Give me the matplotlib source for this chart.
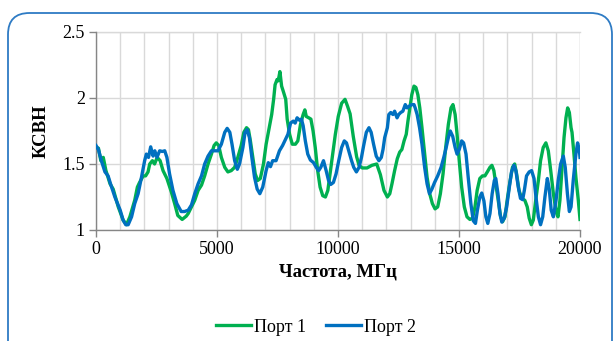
import numpy as np
import matplotlib
matplotlib.use("Agg")
import matplotlib.pyplot as plt
from matplotlib.patches import FancyBboxPatch
from matplotlib.ticker import MultipleLocator

OUTPUT_PLOT_FILE = "out.png"

# Порт 1 (зелёная кривая)
port1_freq = [0, 100, 200, 300, 410, 580, 710, 920, 1120, 1260, 1400, 1600, 1710, 1800, 1950,
              2050, 2150, 2220, 2330, 2420, 2530, 2650, 2770, 2930, 3110, 3250, 3380, 3560, 3730,
              3810, 3945, 4080, 4220, 4360, 4490, 4630, 4770, 4880, 4970, 5070, 5180, 5320, 5450,
              5590, 5730, 5860, 6000, 6110, 6220, 6300, 6380, 6480, 6580, 6680, 6790, 6920, 7030,
              7160, 7260, 7340, 7400, 7480, 7530, 7600, 7670, 7740, 7840, 7900, 8000, 8110, 8240,
              8340, 8450, 8560, 8630, 8690, 8790, 8880, 8970, 9060, 9160, 9260, 9370, 9480, 9580,
              9670, 9780, 9890, 10010, 10150, 10290, 10390, 10500, 10630, 10770, 10870, 11000,
              11200, 11400, 11600, 11750, 11900, 12040, 12140, 12230, 12340, 12450, 12550, 12640,
              12730, 12820, 12890, 12970, 13050, 13140, 13220, 13300, 13380, 13470, 13580, 13680,
              13790, 13900, 14010, 14120, 14230, 14340, 14450, 14560, 14670, 14750, 14840, 14920,
              15010, 15110, 15220, 15330, 15450, 15560, 15660, 15750, 15860, 15970, 16070, 16170,
              16280, 16360, 16440, 16520, 16620, 16720, 16800, 16900, 16990, 17100, 17210, 17300,
              17380, 17480, 17590, 17720, 17820, 17900, 17990, 18070, 18170, 18280, 18370, 18480,
              18590, 18690, 18790, 18900, 19010, 19090, 19170, 19250, 19340, 19420, 19490, 19560,
              19630, 19670, 19750, 19830, 19930, 20000]
port1_vswr = [1.625, 1.62, 1.525, 1.55, 1.45, 1.35, 1.31, 1.175, 1.075, 1.04, 1.10, 1.225, 1.325,
              1.36, 1.41, 1.41, 1.44, 1.50, 1.525, 1.50, 1.55, 1.525, 1.45, 1.39, 1.29, 1.20, 1.11,
              1.08, 1.105, 1.125, 1.175, 1.225, 1.30, 1.34, 1.41, 1.50, 1.575, 1.64, 1.66, 1.64,
              1.55, 1.475, 1.44, 1.45, 1.475, 1.55, 1.64, 1.74, 1.775, 1.76, 1.675, 1.55, 1.425,
              1.375, 1.39, 1.50, 1.65, 1.775, 1.875, 1.99, 2.10, 2.14, 2.13, 2.20, 2.09, 2.05, 1.99,
              1.84, 1.725, 1.65, 1.65, 1.675, 1.80, 1.875, 1.91, 1.86, 1.85, 1.84, 1.75, 1.625, 1.45,
              1.325, 1.26, 1.25, 1.30, 1.425, 1.575, 1.725, 1.86, 1.96, 1.99, 1.94, 1.88, 1.71,
              1.555, 1.49, 1.47, 1.47, 1.49, 1.50, 1.42, 1.30, 1.25, 1.275, 1.35, 1.45, 1.54, 1.59,
              1.61, 1.675, 1.725, 1.825, 1.925, 2.025, 2.09, 2.08, 2.025, 1.925, 1.775, 1.575, 1.40,
              1.275, 1.20, 1.16, 1.175, 1.275, 1.425, 1.625, 1.80, 1.925, 1.95, 1.875, 1.725, 1.525,
              1.325, 1.175, 1.10, 1.08, 1.09, 1.175, 1.30, 1.39, 1.41, 1.41, 1.44, 1.475, 1.49,
              1.45, 1.35, 1.225, 1.10, 1.0625, 1.10, 1.225, 1.36, 1.475, 1.50, 1.425, 1.30, 1.24,
              1.225, 1.175, 1.09, 1.04, 1.075, 1.225, 1.375, 1.525, 1.625, 1.66, 1.60, 1.45, 1.275,
              1.14, 1.10, 1.225, 1.45, 1.70, 1.85, 1.925, 1.89, 1.775, 1.74, 1.575, 1.40, 1.225, 1.08]

# Порт 2 (синяя кривая)
port2_freq = [0, 100, 230, 370, 500, 600, 780, 1000, 1120, 1230, 1330, 1470, 1600, 1740, 1880,
              2010, 2080, 2170, 2260, 2360, 2430, 2520, 2630, 2740, 2840, 2930, 3040, 3180, 3340,
              3520, 3660, 3810, 3945, 4080, 4220, 4360, 4490, 4630, 4770, 4900, 5040, 5180, 5320,
              5420, 5530, 5620, 5730, 5840, 5930, 6070, 6160, 6250, 6340, 6440, 6550, 6660, 6770,
              6890, 7030, 7120, 7210, 7300, 7440, 7580, 7710, 7840, 7930, 8040, 8150, 8230, 8310,
              8420, 8490, 8560, 8650, 8750, 8860, 8990, 9100, 9200, 9290, 9400, 9510, 9610, 9700,
              9810, 9920, 10030, 10150, 10260, 10350, 10460, 10560, 10650, 10760, 10870, 10970,
              11060, 11170, 11280, 11370, 11470, 11580, 11690, 11790, 11860, 11930, 12040, 12100,
              12180, 12270, 12340, 12440, 12510, 12590, 12680, 12780, 12860, 12960, 13050, 13140,
              13190, 13270, 13370, 13470, 13580, 13680, 13780, 13880, 13990, 14120, 14260, 14370,
              14470, 14560, 14640, 14740, 14840, 14920, 15010, 15110, 15190, 15290, 15380, 15490,
              15590, 15680, 15760, 15860, 15940, 16030, 16110, 16190, 16280, 16370, 16460, 16520,
              16610, 16690, 16770, 16870, 16970, 17080, 17170, 17270, 17350, 17450, 17540, 17630,
              17700, 17790, 17900, 18000, 18100, 18180, 18280, 18370, 18460, 18550, 18650, 18730,
              18810, 18900, 19010, 19100, 19200, 19310, 19390, 19480, 19560, 19630, 19720, 19830,
              19900, 19970, 20000]
port2_vswr = [1.64, 1.61, 1.52, 1.44, 1.41, 1.35, 1.25, 1.15, 1.075, 1.04, 1.04, 1.10, 1.20, 1.275,
              1.40, 1.525, 1.575, 1.55, 1.63, 1.56, 1.60, 1.55, 1.60, 1.595, 1.60, 1.55, 1.425, 1.30,
              1.20, 1.14, 1.14, 1.15, 1.19, 1.275, 1.35, 1.41, 1.50, 1.56, 1.60, 1.60, 1.60, 1.65,
              1.74, 1.77, 1.74, 1.65, 1.525, 1.46, 1.50, 1.625, 1.74, 1.76, 1.70, 1.55, 1.40, 1.31,
              1.275, 1.325, 1.45, 1.51, 1.48, 1.525, 1.525, 1.60, 1.64, 1.69, 1.725, 1.81, 1.825,
              1.81, 1.85, 1.83, 1.84, 1.79, 1.675, 1.575, 1.53, 1.51, 1.475, 1.45, 1.475, 1.525,
              1.45, 1.375, 1.345, 1.36, 1.425, 1.525, 1.625, 1.675, 1.66, 1.59, 1.525, 1.475, 1.44,
              1.475, 1.55, 1.64, 1.74, 1.775, 1.74, 1.65, 1.56, 1.525, 1.55, 1.61, 1.70, 1.775,
              1.875, 1.89, 1.875, 1.90, 1.85, 1.875, 1.89, 1.90, 1.95, 1.925, 1.94, 1.95, 1.95,
              1.925, 1.875, 1.775, 1.65, 1.475, 1.35, 1.275, 1.31, 1.36, 1.41, 1.475, 1.55, 1.625,
              1.70, 1.75, 1.71, 1.625, 1.575, 1.61, 1.675, 1.66, 1.575, 1.40, 1.20, 1.07, 1.05,
              1.15, 1.25, 1.28, 1.22, 1.10, 1.05, 1.125, 1.275, 1.375, 1.39, 1.275, 1.125, 1.06,
              1.09, 1.175, 1.325, 1.44, 1.49, 1.45, 1.325, 1.24, 1.23, 1.30, 1.41, 1.44, 1.45, 1.39,
              1.25, 1.10, 1.04, 1.10, 1.25, 1.39, 1.31, 1.15, 1.10, 1.225, 1.375, 1.50, 1.56, 1.475,
              1.275, 1.14, 1.175, 1.375, 1.575, 1.66, 1.61, 1.55]

x_ticks = [0, 5000, 10000, 15000, 20000]
y_ticks = [1, 1.5, 2, 2.5]
y_tick_labels = ["1", "1.5", "2", "2.5"]
series_labels = ["Порт 1", "Порт 2"]

GREEN = "#00B050"
BLUE = "#0070C0"
GRID = "#D9D9D9"
AXIS = "#868686"


def plot_vswr():
    plt.rcParams['font.family'] = ['Liberation Serif', 'DejaVu Serif']

    fig = plt.figure(figsize=(6.14, 3.41), dpi=100)

    # рамка области диаграммы со скруглёнными углами (низ уходит за край)
    frame = FancyBboxPatch((8 / 614, -0.2), (612 - 8) / 614, (341 - 13) / 341 + 0.2,
                           boxstyle="round,pad=0,rounding_size=0.035",
                           transform=fig.transFigure, fill=False,
                           edgecolor="#2E7BC4", linewidth=1.3, clip_on=False,
                           mutation_aspect=614 / 341)
    fig.patches.append(frame)

    ax = fig.add_axes([96 / 614, 1 - 230 / 341, 484 / 614, 198 / 341])

    ax.plot(port1_freq, port1_vswr, color=GREEN, linewidth=2.4, label=series_labels[0],
            solid_joinstyle='round', zorder=3)
    ax.plot(port2_freq, port2_vswr, color=BLUE, linewidth=2.4, label=series_labels[1],
            solid_joinstyle='round', zorder=4)

    ax.set_xlim(0, 20000)
    ax.set_ylim(1, 2.5)
    ax.set_xticks(x_ticks)
    ax.set_yticks(y_ticks)
    ax.set_yticklabels(y_tick_labels)
    ax.xaxis.set_minor_locator(MultipleLocator(1000))

    ax.grid(True, which='both', axis='x', color=GRID, linewidth=1.0, zorder=0)
    ax.grid(True, which='major', axis='y', color=GRID, linewidth=1.0, zorder=0)
    ax.axvline(20000, color=GRID, linewidth=1.0, zorder=0)
    ax.axhline(2.5, color=GRID, linewidth=1.0, zorder=0, clip_on=False)

    for side in ['top', 'right']:
        ax.spines[side].set_visible(False)
    for side in ['left', 'bottom']:
        ax.spines[side].set_color(AXIS)
        ax.spines[side].set_linewidth(1.0)

    ax.tick_params(axis='both', which='major', direction='out', length=5, width=1,
                   color=AXIS, labelsize=13, pad=3)
    ax.tick_params(axis='x', which='minor', length=0)

    ax.set_xlabel("Частота, МГц", fontsize=13.5, fontweight='bold', labelpad=4)
    ax.set_ylabel("КСВН", fontsize=13.5, fontweight='bold', labelpad=9)

    fig.legend(loc='center', bbox_to_anchor=(0.515, 0.041), ncol=2, frameon=False,
               fontsize=13, handlelength=1.9, handletextpad=0.2, columnspacing=1.1)

    fig.savefig(OUTPUT_PLOT_FILE, dpi=100)


if __name__ == "__main__":
    plot_vswr()
